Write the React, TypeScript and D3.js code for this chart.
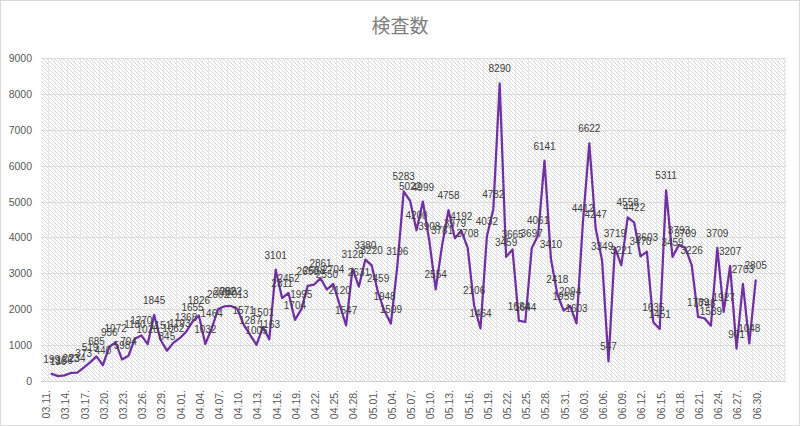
import React from 'react';
import * as d3 from 'd3';

// categories: consecutive days 03.11 .. 06.30
const startDate = new Date(2020, 2, 11);
const endDate = new Date(2020, 6, 1);
const categories: string[] = d3.timeDay.range(startDate, endDate).map(d3.timeFormat('%m.%d.'));

// 検査数 (03.11 .. 06.29)
const values: number[] = [
  199, 136, 156, 223, 234, 373, 519, 685, 440, 956,
  1072, 598, 704, 1180, 1270, 1028, 1845, 1151, 845, 1062,
  1193, 1368, 1655, 1826, 1032, 1464, 2002, 2082, 2092, 2013,
  1571, 1287, 1005, 1501, 1163, 3101, 2311, 2452, 1704, 1995,
  2650, 2688, 2861, 2550, 2704, 2120, 1547, 3128, 2631, 3380,
  3220, 2459, 1948, 1599, 3196, 5283, 5022, 4200, 4999, 3908,
  2554, 3781, 4758, 3979, 4192, 3708, 2106, 1464, 4032, 4782,
  8290, 3459, 3665, 1684, 1644, 3697, 4061, 6141, 3410, 2418,
  1959, 2094, 1603, 4412, 6622, 4247, 3349, 547, 3719, 3221,
  4558, 4422, 3470, 3603, 1635, 1451, 5311, 3459, 3793, 3709,
  3226, 1789, 1748, 1539, 3709, 1927, 3207, 901, 2703, 1048,
  2805,
];

const yTicks: number[] = [0, 1000, 2000, 3000, 4000, 5000, 6000, 7000, 8000, 9000];
const title = '検査数';

const W = 800;
const H = 426;
const plot = { left: 41, right: 786, top: 58, bottom: 381 };

export default function App() {
  const x = d3
    .scalePoint<string>()
    .domain(categories)
    .range([51.7, 51.7 + (categories.length - 1) * 6.4]);
  const y = d3.scaleLinear().domain([0, 9000]).range([plot.bottom, plot.top]);
  const step = x.step();

  const line = d3
    .line<number>()
    .x((_, i) => x(categories[i]) as number)
    .y((d) => y(d));

  const vGrid: number[] = [];
  for (let i = 0; i <= categories.length + 5; i++) {
    const gx = (x(categories[0]) as number) - step / 2 + i * step;
    if (gx > plot.left && gx < plot.right) vGrid.push(gx);
  }

  const numFont = '"Liberation Sans", Arial, sans-serif';

  return (
    <div style={{ position: 'fixed', left: 0, top: 0, width: W, height: H, background: '#fff' }}>
      <svg width={W} height={H} viewBox={`0 0 ${W} ${H}`} style={{ display: 'block' }}>
        <defs>
          <pattern id="hatch" width="4" height="4" patternUnits="userSpaceOnUse">
            <rect width="4" height="4" fill="#ffffff" />
            <path d="M0,0 L4,4 M-1,3 L1,5 M3,-1 L5,1" stroke="#d6d6d6" strokeWidth="1" />
          </pattern>
        </defs>
        <rect x={0.5} y={0.5} width={W - 1} height={H - 1} fill="#fff" stroke="#d9d9d9" />
        <text
          x={400}
          y={33}
          textAnchor="middle"
          fontFamily='"Noto Sans CJK JP", sans-serif'
          fontSize={19}
          fill="#7f7f7f"
        >
          {title}
        </text>
        <rect
          x={plot.left}
          y={plot.top}
          width={plot.right - plot.left}
          height={plot.bottom - plot.top}
          fill="url(#hatch)"
        />
        {vGrid.map((gx, i) => (
          <line key={'v' + i} x1={gx} x2={gx} y1={plot.top} y2={plot.bottom} stroke="#e6e6e6" strokeWidth={1} />
        ))}
        {yTicks.map((t) => (
          <line
            key={'h' + t}
            x1={plot.left}
            x2={plot.right}
            y1={Math.round(y(t)) + 0.5}
            y2={Math.round(y(t)) + 0.5}
            stroke="#dcdcdc"
            strokeWidth={1}
          />
        ))}
        <line x1={plot.left} x2={plot.right} y1={plot.bottom + 0.5} y2={plot.bottom + 0.5} stroke="#d0d0d0" />
        {yTicks.map((t) => (
          <text
            key={'yl' + t}
            x={32}
            y={y(t)}
            textAnchor="end"
            dominantBaseline="central"
            fontFamily={numFont}
            fontSize={10.5}
            fill="#595959"
          >
            {t}
          </text>
        ))}
        {categories.map((c, i) =>
          i % 3 === 0 ? (
            <text
              key={'xl' + c}
              transform={`translate(${(x(c) as number) - 1.5},390) rotate(-90)`}
              textAnchor="end"
              fontFamily={numFont}
              fontSize={10.5}
              fill="#595959"
            >
              {c}
            </text>
          ) : null
        )}
        <path
          d={line(values) || ''}
          fill="none"
          stroke="#7030A0"
          strokeWidth={2.25}
          strokeLinejoin="round"
          strokeLinecap="round"
        />
        {values.map((v, i) => (
          <text
            key={'dl' + i}
            x={x(categories[i]) as number}
            y={y(v) - 11}
            textAnchor="middle"
            fontFamily={numFont}
            fontSize={10}
            fill="#404040"
          >
            {v}
          </text>
        ))}
      </svg>
    </div>
  );
}
